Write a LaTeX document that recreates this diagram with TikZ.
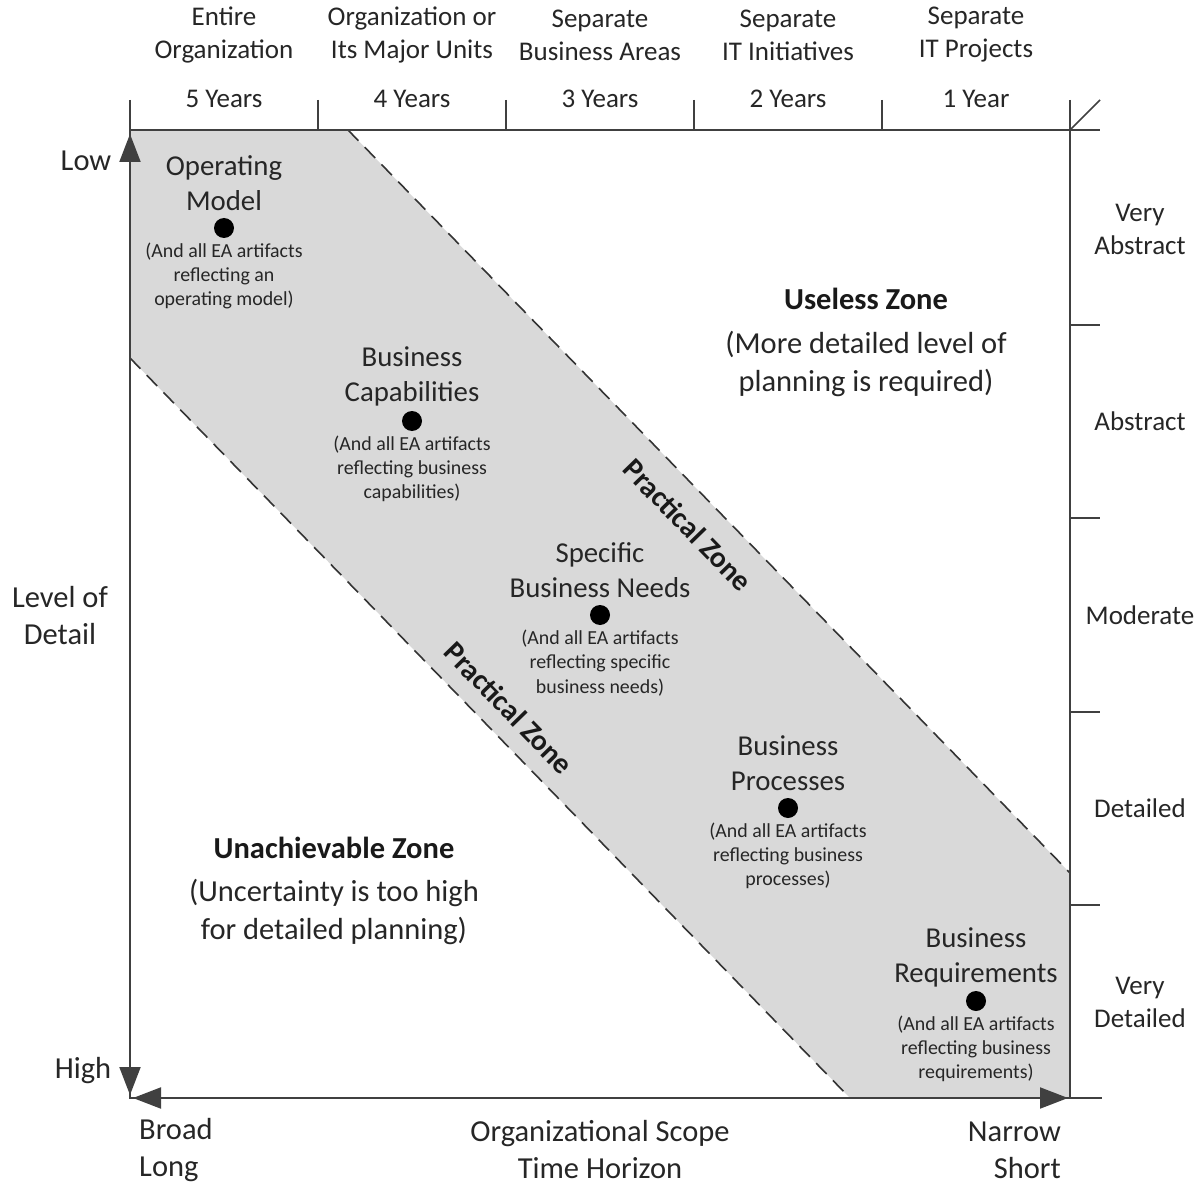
\documentclass[tikz,border=0pt]{standalone}
\usepackage{fontspec}
\setmainfont{Carlito}
\usetikzlibrary{arrows.meta}
\begin{document}
\begin{tikzpicture}[x=1pt,y=-1pt,
  axis/.style={draw=black!75, line width=2pt},
  tickline/.style={draw=black!75, line width=1.6pt},
  zoneedge/.style={draw=black!80, line width=1.6pt, dash pattern=on 15pt off 9pt},
  tip/.style={draw=black!75, line width=2pt, -{Triangle[length=28pt,width=21pt]}},
  hdr/.style={font=\fontsize{27}{33}\selectfont, align=center, text=black!85, inner sep=0pt},
  axlbl/.style={font=\fontsize{30.5}{37}\selectfont, align=center, text=black!85, inner sep=0pt},
  lbl/.style={font=\fontsize{28.8}{35}\selectfont, align=center, text=black!85, inner sep=0pt},
  sub/.style={font=\fontsize{19.9}{24.3}\selectfont, align=center, text=black!85, inner sep=0pt},
  zonetitle/.style={font=\bfseries\fontsize{30.5}{37}\selectfont, align=center, text=black!90, inner sep=0pt},
  zonenote/.style={font=\fontsize{30.5}{37.5}\selectfont, align=center, text=black!85, inner sep=0pt},
  practical/.style={font=\bfseries\fontsize{29.5}{32}\selectfont, text=black!90, inner sep=0pt, rotate=-45.8},
  dot/.style={circle, fill=black, inner sep=0pt, minimum size=20pt}
]
\useasboundingbox (0,0) rectangle (1200,1185);

% grid corners
\coordinate (TL) at (130,130);
\coordinate (TR) at (1070,130);
\coordinate (BL) at (130,1098);
\coordinate (BR) at (1070,1098);

% practical zone band
\coordinate (uA) at (348,130);
\coordinate (uB) at (1070,873);
\coordinate (lA) at (130,358);
\coordinate (lB) at (850,1098);
\fill[gray!30] (TL) -- (uA) -- (uB) -- (BR) -- (lB) -- (lA) -- cycle;
\draw[zoneedge] (uA) -- (uB);
\draw[zoneedge] (lA) -- (lB);

% frame: axes and scale ticks
\draw[axis] (130,100) -- (BL) -- (1102,1098);
\draw[axis] (130,130) -- (1100,130);
\draw[axis] (1070,100) -- (BR);
\draw[tickline] (TR) -- (1100,100);
\foreach \x in {318,506,694,882}
  \draw[tickline] (\x,100) -- (\x,130);
\foreach \y in {325,518,712,905}
  \draw[tickline] (1070,\y) -- (1100,\y);

% axis arrow heads
\coordinate (upS) at (130,170);
\coordinate (upE) at (130,134);
\coordinate (dnS) at (130,1060);
\coordinate (dnE) at (130,1095);
\coordinate (lfS) at (170,1098);
\coordinate (lfE) at (133,1098);
\coordinate (rtS) at (1030,1098);
\coordinate (rtE) at (1068,1098);
\draw[tip] (upS) -- (upE);
\draw[tip] (dnS) -- (dnE);
\draw[tip] (lfS) -- (lfE);
\draw[tip] (rtS) -- (rtE);

% column headings
\node[hdr] (h1) at (224,35) {Entire\\Organization};
\node[hdr] (h2) at (412,35) {Organization or\\Its Major Units};
\node[hdr] (h3) at (600,35) {Separate\\Business Areas};
\node[hdr] (h4) at (788,35) {Separate\\IT Initiatives};
\node[hdr] (h5) at (976,35) {Separate\\IT Projects};
\node[hdr] (y5) at (224,99) {5 Years};
\node[hdr] (y4) at (412,99) {4 Years};
\node[hdr] (y3) at (600,99) {3 Years};
\node[hdr] (y2) at (788,99) {2 Years};
\node[hdr] (y1) at (976,99) {1 Year};

% row headings
\node[hdr] (r1) at (1140,229) {Very\\Abstract};
\node[hdr] (r2) at (1140,421) {Abstract};
\node[hdr] (r3) at (1140,615) {Moderate};
\node[hdr] (r4) at (1140,808) {Detailed};
\node[hdr] (r5) at (1140,1002) {Very\\Detailed};

% vertical axis labels
\node[axlbl] (low) at (86,161) {Low};
\node[axlbl] (high) at (83,1071) {High};
\node[axlbl] (lod) at (60,616) {Level of\\Detail};

% horizontal axis labels
\node[axlbl, align=left, anchor=west] (broad) at (139,1150) {Broad\\Long};
\node[axlbl] (scope) at (600,1150) {Organizational Scope\\Time Horizon};
\node[axlbl, align=right, anchor=east] (narrow) at (1061,1150) {Narrow\\Short};

% planning artifacts
\node[dot] (d1) at (224,228) {};
\node[dot] (d2) at (412,421) {};
\node[dot] (d3) at (600,615) {};
\node[dot] (d4) at (788,808) {};
\node[dot] (d5) at (976,1001) {};

\node[lbl] (t1) at (224,183) {Operating\\Model};
\node[lbl] (t2) at (412,376) {Business\\Capabilities};
\node[lbl] (t3) at (600,570) {Specific\\Business Needs};
\node[lbl] (t4) at (788,763) {Business\\Processes};
\node[lbl] (t5) at (976,957) {Business\\Requirements};

\node[sub] (s1) at (224,276) {(And all EA artifacts\\reflecting an\\operating model)};
\node[sub] (s2) at (412,469) {(And all EA artifacts\\reflecting business\\capabilities)};
\node[sub] (s3) at (600,663) {(And all EA artifacts\\reflecting specific\\business needs)};
\node[sub] (s4) at (788,856) {(And all EA artifacts\\reflecting business\\processes)};
\node[sub] (s5) at (976,1049) {(And all EA artifacts\\reflecting business\\requirements)};

% zones
\node[zonetitle] (uz) at (866,299) {Useless Zone};
\node[zonenote] (uzn) at (866,364) {(More detailed level of\\planning is required)};
\node[zonetitle] (az) at (334,848) {Unachievable Zone};
\node[zonenote] (azn) at (334,912) {(Uncertainty is too high\\for detailed planning)};
\node[practical] (pz1) at (688,525) {Practical Zone};
\node[practical] (pz2) at (509,708) {Practical Zone};
\end{tikzpicture}
\end{document}
